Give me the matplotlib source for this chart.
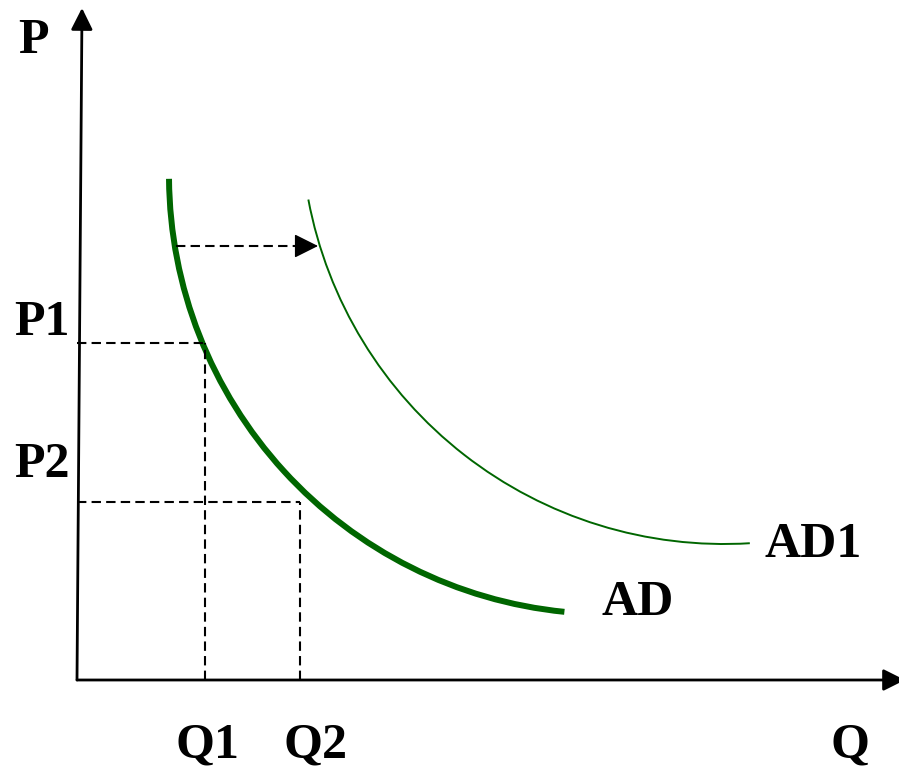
import matplotlib.pyplot as plt
from matplotlib.patches import Arc

# both demand curves are circle arcs in the picture (Q, P units, origin at axes corner)
ad_center = (531, 505)
ad_radius = 439
ad_angles = (180.5, 264.3)

ad1_center = (647, 559)
ad1_radius = 423
ad1_angles = (190.7, 273.5)

q_levels = [128, 223]
p_levels = [337, 178]
q_labels = ["Q1", "Q2"]
p_labels = ["P1", "P2"]

shift_from = (99, 434)
shift_to = (241, 434)

green = '#006600'
dash = (0, (4.5, 2.5))
font = dict(family='Liberation Serif', fontweight='bold', fontsize=36, color='black')

fig = plt.figure(figsize=(8.99, 7.68), dpi=100)
ax = fig.add_axes([0, 0, 1, 1])
ax.set_xlim(-77, 822)
ax.set_ylim(-88, 680)
ax.axis('off')

# axes with arrows
ax.annotate('', xy=(828, 0), xytext=(0, 0), annotation_clip=False,
            arrowprops=dict(arrowstyle='-|>,head_length=0.6,head_width=0.3', color='black',
                            lw=2, mutation_scale=22, shrinkA=0, shrinkB=0))
ax.annotate('', xy=(5, 672), xytext=(0, 0), annotation_clip=False,
            arrowprops=dict(arrowstyle='-|>,head_length=0.6,head_width=0.3', color='black',
                            lw=2, mutation_scale=22, shrinkA=0, shrinkB=0))

# demand curves
ax.add_patch(Arc(ad_center, 2 * ad_radius, 2 * ad_radius, theta1=ad_angles[0], theta2=ad_angles[1],
                 color=green, lw=4.3, capstyle='butt'))
ax.add_patch(Arc(ad1_center, 2 * ad1_radius, 2 * ad1_radius, theta1=ad1_angles[0], theta2=ad1_angles[1],
                 color=green, lw=1.4))

# dashed guide lines
for q, p in zip(q_levels, p_levels):
    ax.plot([0, q], [p, p], color='black', lw=1.5, ls=dash)
    ax.plot([q, q], [0, p], color='black', lw=1.5, ls=dash)

# shift arrow
ax.plot([shift_from[0], shift_to[0] - 12], [shift_from[1], shift_to[1]], color='black', lw=1.5, ls=dash)
ax.annotate('', xy=shift_to, xytext=(shift_to[0] - 14, shift_to[1]),
            arrowprops=dict(arrowstyle='-|>,head_length=0.6,head_width=0.3', color='black',
                            lw=1, mutation_scale=25, shrinkA=0, shrinkB=0))

# labels
ax.text(-44, 627, "P", ha='center', va='baseline', **font)
ax.text(773, -78, "Q", ha='center', va='baseline', **font)
ax.text(q_levels[0] + 3, -78, q_labels[0], ha='center', va='baseline', **font)
ax.text(q_levels[1] + 16, -78, q_labels[1], ha='center', va='baseline', **font)
ax.text(-35, 345, p_labels[0], ha='center', va='baseline', **font)
ax.text(-35, 203, p_labels[1], ha='center', va='baseline', **font)
ax.text(561, 65, "AD", ha='center', va='baseline', **font)
ax.text(736, 123, "AD1", ha='center', va='baseline', **font)

plt.savefig("out.png", dpi=100)
